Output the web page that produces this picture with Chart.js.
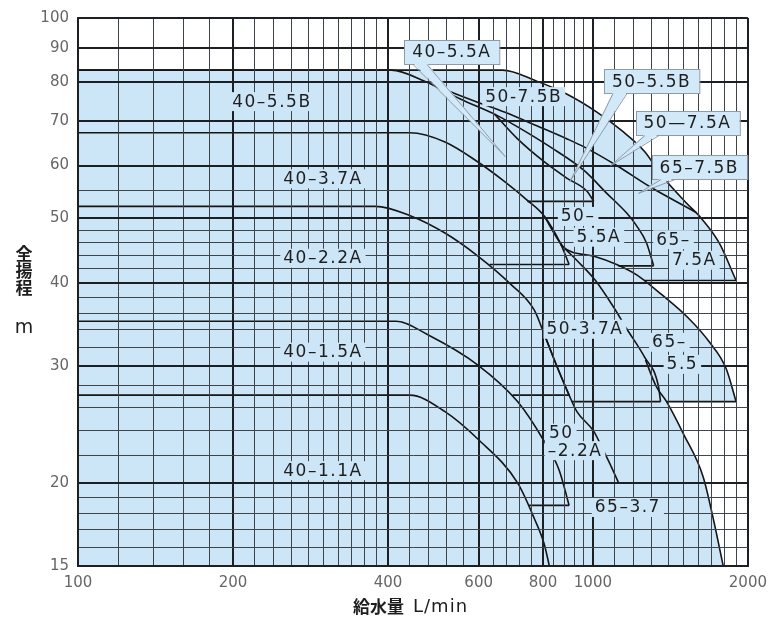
<!DOCTYPE html>
<html>
<head>
<meta charset="utf-8">
<script src="https://cdn.jsdelivr.net/npm/chart.js@4.4.1/dist/chart.umd.min.js"></script>
<style>
  html, body { margin: 0; padding: 0; background: #fff; }
  #wrap { width: 775px; height: 620px; }
</style>
</head>
<body>
<div id="wrap"><canvas id="chart"></canvas></div>
<script>
// axis grid and tick labels
const xGrid = [100, 120, 140, 160, 180, 200, 220, 240, 260, 280, 300, 320, 340, 360, 380, 400,
  440, 480, 520, 560, 600, 640, 680, 720, 760, 800, 840, 880, 920, 960, 1000,
  1100, 1200, 1300, 1400, 1500, 1600, 1700, 1800, 1900, 2000]
const xLabels = [100, 200, 400, 600, 800, 1000, 2000]
const yGrid = [15, 16, 17, 18, 19, 20, 22, 24, 26, 28, 30, 32, 34, 36, 38, 40,
  42, 44, 46, 48, 50, 55, 60, 70, 80, 90, 100]
const yLabels = [15, 20, 30, 40, 50, 60, 70, 80, 90, 100]

// pump curves, [flow L/min, head m]; a last point going back left is the step at the end
const m40_11A = [[100, 27.1], [441, 27.1], [516, 25.6], [597, 23.3], [714, 20.0], [769, 17.7], [804, 16.2], [823, 15]]
const m40_15A = [[100, 35], [415, 35], [478, 33.4], [597, 30.1], [714, 26.5], [804, 23.1], [860, 20.9], [899, 18.5], [752, 18.5]]
const m40_22A = [[100, 52.1], [378, 52.1], [443, 50.4], [516, 47.5], [597, 43.9], [692, 39.8], [769, 36.4], [804, 33.5], [852, 29.9], [899, 27.1], [698, 27.1]]
const m40_37A = [[100, 67.2], [441, 67.2], [516, 65.1], [597, 60.8], [673, 56.8], [746, 53.2], [804, 50.4], [864, 45.9], [899, 42.6], [630, 42.6]]
const m40_55B = [[100, 83.5], [406, 83.5], [478, 80], [530, 77.4], [597, 74.7], [673, 72.2], [780, 68.8], [891, 65.8], [961, 64.0], [1112, 60], [1288, 55.8], [1588, 51]]
const m40_55A = [[644, 71.7], [714, 65.8], [804, 60.8], [891, 57.4], [974, 54.9], [1004, 53.0], [746, 53.0]]
const m50_55B = [[478, 80], [554, 75.5], [644, 71.7], [714, 68.6], [826, 64.0], [961, 59.0], [1064, 54.5], [1163, 50.9], [1216, 48.7], [1271, 45.9], [1312, 42.4], [1120, 42.4]]
const m50_37A = [[804, 50.4], [864, 45.9], [931, 43.2], [1009, 40.4], [1098, 36.7], [1163, 34.1], [1260, 30.9], [1341, 27.9], [1353, 26.5], [911, 26.5]]
const m50_22A = [[804, 33.5], [852, 29.9], [899, 27.1], [931, 25.6], [1004, 23.9], [1050, 22.3], [1078, 21.4], [1122, 20.0], [871, 20.0]]
const m65_37 = [[1265, 30.6], [1328, 27.9], [1390, 26.5], [1499, 23.7], [1638, 20.4], [1712, 17.7], [1791, 15]]
const m65_55 = [[864, 45.9], [871, 45.4], [1009, 43.8], [1112, 42.6], [1216, 41.1], [1359, 38.4], [1532, 35.4], [1682, 32.6], [1815, 29.7], [1897, 26.5], [1390, 26.5]]
const m65_75A = [[100, 83.5], [667, 83.5], [780, 80.3], [891, 76.8], [1018, 72.2], [1138, 67.7], [1260, 63.0], [1359, 58.0], [1519, 52.7], [1623, 50], [1759, 45.9], [1897, 40.3], [1258, 40.3]]

// outer edge of the shaded area
const envelope = [[100, 83.5], [667, 83.5], [780, 80.3], [891, 76.8], [1018, 72.2], [1138, 67.7], [1260, 63.0], [1359, 58.0],
  [1519, 52.7], [1623, 50], [1759, 45.9], [1897, 40.3], [1258, 40.3], [1359, 38.4], [1532, 35.4], [1682, 32.6], [1815, 29.7],
  [1897, 26.5], [1390, 26.5], [1499, 23.7], [1638, 20.4], [1712, 17.7], [1791, 15], [2000, 15]]

const curves = [m40_11A, m40_15A, m40_22A, m40_37A, m40_55B, m40_55A, m50_55B, m50_37A, m50_22A, m65_37, m65_55, m65_75A]

// model names written inside the areas
const notes = [
  { t: '40–5.5B', x: 238, y: 75.0 },
  { t: '40–3.7A', x: 299, y: 57.4 },
  { t: '40–2.2A', x: 299, y: 43.6 },
  { t: '40–1.5A', x: 299, y: 31.5 },
  { t: '40–1.1A', x: 299, y: 20.9 },
  { t: '50-7.5B', x: 734, y: 76.3 },
  { t: '50–', x: 936, y: 50.4 },
  { t: '5.5A', x: 1027, y: 46.9 },
  { t: '65–', x: 1434, y: 46.5 },
  { t: '7.5A', x: 1574, y: 43.3 },
  { t: '50-3.7A', x: 965, y: 34.1 },
  { t: '65–', x: 1408, y: 32.6 },
  { t: '5.5', x: 1492, y: 30.2 },
  { t: '50', x: 868, y: 23.8 },
  { t: '–2.2A', x: 923, y: 22.4 },
  { t: '65–3.7', x: 1169, y: 18.4 }
]
// boxed names with a pointer
const callouts = [
  { t: '40–5.5A', x: 532, y: 89.0, tx: 676, ty: 61.9 },
  { t: '50–5.5B', x: 1300, y: 80.3, tx: 903, ty: 56.8 },
  { t: '50—7.5A', x: 1526, y: 69.6, tx: 1083, ty: 60 },
  { t: '65–7.5B', x: 1609, y: 59.6, tx: 1227, ty: 54.5 }
]

const fillBlue = '#cde6f7'
const boxBlue = '#d2e9f9'
const ink = '#1e1e1e'

const notesPlugin = {
  id: 'notes',
  afterDraw(chart) {
    const ctx = chart.ctx
    const sx = chart.scales.x
    const sy = chart.scales.y
    ctx.save()
    ctx.font = '17px "DejaVu Sans"'
    ctx.textAlign = 'center'
    ctx.textBaseline = 'middle'
    ctx.letterSpacing = '1.5px'

    notes.forEach(n => {
      const px = sx.getPixelForValue(n.x)
      const py = sy.getPixelForValue(n.y)
      const w = ctx.measureText(n.t).width
      ctx.fillStyle = fillBlue
      ctx.fillRect(px - w / 2 - 3, py - 9, w + 6, 19)
      ctx.fillStyle = ink
      ctx.fillText(n.t, px, py + 1)
    })

    callouts.forEach(c => {
      const px = sx.getPixelForValue(c.x)
      const py = sy.getPixelForValue(c.y)
      const tx = sx.getPixelForValue(c.tx)
      const ty = sy.getPixelForValue(c.ty)
      const w = ctx.measureText(c.t).width + 16
      const h = 24
      const left = Math.round(px - w / 2)
      const top = Math.round(py - h / 2)
      ctx.fillStyle = boxBlue
      ctx.fillRect(left, top, w, h)
      ctx.strokeStyle = '#8f9ba7'
      ctx.lineWidth = 1
      ctx.strokeRect(left + 0.5, top + 0.5, w, h)
      // pointer
      const b0 = left + 9
      const b1 = left + 23
      ctx.beginPath()
      ctx.moveTo(b0, top + h - 1)
      ctx.lineTo(tx, ty)
      ctx.lineTo(b1, top + h - 1)
      ctx.closePath()
      ctx.fill()
      ctx.beginPath()
      ctx.moveTo(b0, top + h + 0.5)
      ctx.lineTo(tx, ty)
      ctx.lineTo(b1, top + h + 0.5)
      ctx.stroke()
      ctx.fillStyle = ink
      ctx.fillText(c.t, px, py + 1)
    })

    // axis titles
    ctx.letterSpacing = '0px'
    ctx.fillStyle = ink
    ctx.font = 'bold 17px "Noto Sans CJK JP"'
    ;['全', '揚', '程'].forEach((ch, i) => ctx.fillText(ch, 24, 254 + i * 17))
    ctx.font = '19px "DejaVu Sans"'
    ctx.fillText('m', 24, 328)
    ctx.textAlign = 'left'
    ctx.font = 'bold 17px "Noto Sans CJK JP"'
    ctx.fillText('給水量', 353, 607)
    ctx.font = '18px "DejaVu Sans"'
    ctx.letterSpacing = '1px'
    ctx.fillText('L/min', 413, 607)
    ctx.restore()
  }
}

const gridWidth = (bold) => (ctx) => bold.includes(ctx.tick && ctx.tick.value) ? 2 : 1
const gridColor = (bold) => (ctx) => bold.includes(ctx.tick && ctx.tick.value) ? '#1c1f24' : '#3e444c'

const lineStyle = { borderColor: '#151515', borderWidth: 1.6, pointRadius: 0, fill: false, order: 0 }
const datasets = []
curves.forEach(c => {
  const pts = c.map(([x, y]) => ({ x, y }))
  const n = pts.length
  const stepBack = n > 2 && pts[n - 1].x < pts[n - 2].x
  const run = stepBack ? pts.slice(0, n - 1) : pts
  datasets.push({ ...lineStyle, data: run, cubicInterpolationMode: 'monotone' })
  if (stepBack) datasets.push({ ...lineStyle, data: pts.slice(n - 2), tension: 0 })
})
datasets.push({
  data: envelope.map(([x, y]) => ({ x, y })),
  borderWidth: 0,
  borderColor: 'rgba(0,0,0,0)',
  backgroundColor: fillBlue,
  pointRadius: 0,
  fill: 'start',
  tension: 0,
  order: 10
})

new Chart(document.getElementById('chart'), {
  type: 'line',
  data: { datasets },
  options: {
    responsive: true,
    maintainAspectRatio: false,
    animation: false,
    layout: { padding: { top: 13, right: 23, bottom: 0, left: 0 } },
    plugins: {
      legend: { display: false },
      tooltip: { enabled: false }
    },
    scales: {
      x: {
        type: 'logarithmic',
        min: 100,
        max: 2000,
        afterBuildTicks: (scale) => { scale.ticks = xGrid.map(v => ({ value: v })) },
        afterFit: (scale) => { scale.height = 54 },
        ticks: {
          autoSkip: false,
          maxRotation: 0,
          padding: 8,
          color: '#666',
          font: { family: 'DejaVu Sans', size: 15 },
          callback: (v) => xLabels.includes(v) ? String(v) : ''
        },
        grid: {
          z: 1,
          drawTicks: false,
          lineWidth: gridWidth(xLabels),
          color: gridColor(xLabels)
        },
        border: { color: '#1c1f24', width: 2, z: 1 }
      },
      y: {
        type: 'logarithmic',
        min: 15,
        max: 100,
        afterBuildTicks: (scale) => { scale.ticks = yGrid.map(v => ({ value: v })) },
        afterFit: (scale) => { scale.width = 78 },
        ticks: {
          autoSkip: false,
          padding: 9,
          color: '#666',
          font: { family: 'DejaVu Sans', size: 15 },
          callback: (v) => yLabels.includes(v) ? String(v) : ''
        },
        grid: {
          z: 1,
          drawTicks: false,
          lineWidth: gridWidth(yLabels),
          color: gridColor(yLabels)
        },
        border: { color: '#1c1f24', width: 2, z: 1 }
      }
    }
  },
  plugins: [notesPlugin]
})
</script>
</body>
</html>
